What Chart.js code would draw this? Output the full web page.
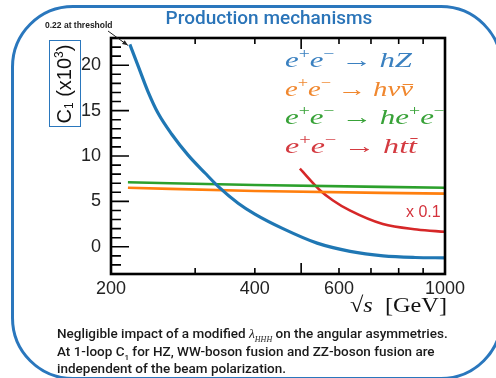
<!DOCTYPE html>
<html>
<head>
<meta charset="utf-8">
<script src="https://cdn.jsdelivr.net/npm/chart.js@4.4.0/dist/chart.umd.min.js"></script>
<style>
  body { margin: 0; background: #fff; }
  #wrap { position: relative; width: 496px; height: 378px; overflow: hidden; font-family: 'Liberation Sans', Arial, sans-serif; }
  #frame { position: absolute; left: 11px; top: 5px; width: 486px; height: 369px; border: 3px solid #2a77bd; border-radius: 62px; }
  canvas { position: absolute; left: 0; top: 0; }
  .ov { position: absolute; white-space: nowrap; }
  #title { left: 0; width: 538px; top: 6px; text-align: center; font-family: Roboto, sans-serif; font-weight: 500; font-size: 19px; color: #2a74b8; }
  #thr { left: 45px; top: 20px; font-size: 8.5px; font-weight: 700; color: #222; }
  #ybox { left: 49px; top: 40px; width: 30px; height: 85px; border: 1.5px solid #2a77bd; }
  #ytitle { left: 64px; top: 84px; transform: translate(-50%, -50%) rotate(-90deg); font-size: 20px; color: #111; }
  #ytitle sub { font-size: 12px; vertical-align: -2px; }
  #ytitle sup { font-size: 12px; vertical-align: 8px; }
  .lg { left: 285px; font-family: 'Liberation Serif', serif; font-size: 22px; line-height: 24px; transform-origin: left top; }
  .lg sup { font-size: 14px; vertical-align: 9px; line-height: 0; }
  .lg .ar { font-style: normal; margin: 0 5px; }
  .ob { display: inline-block; position: relative; }
  .ob::before { content: ''; position: absolute; left: 2px; right: 0; border-top: 1.2px solid currentColor; }
  .ob.nu::before { top: 7px; }
  .ob.t::before { top: 4px; }
  #scale { left: 406px; top: 203px; font-size: 16px; color: #d3323c; }
  #xtitle { left: 350px; top: 293px; font-family: 'Liberation Serif', serif; font-size: 22px; line-height: 24px; color: #111; transform-origin: left top; }
  .cap { left: 57px; font-family: Roboto, sans-serif; font-weight: 500; font-size: 13.5px; line-height: 16px; color: #1a1a1a; }
  .cap i { font-family: 'Liberation Serif', serif; }
  .cap sub { font-size: 8px; line-height: 0; }
</style>
</head>
<body>
<div id="wrap">
  <div id="frame"></div>
  <canvas id="chart" width="496" height="378"></canvas>
  <div class="ov" id="title">Production mechanisms</div>
  <div class="ov" id="thr">0.22 at threshold</div>
  <div class="ov" id="ybox"></div>
  <div class="ov" id="ytitle">C<sub>1</sub> (x10<sup>3</sup>)</div>
  <div class="ov lg" data-w="127" style="top:48px;color:#3a80c0"><i>e</i><sup>+</sup><i>e</i><sup>−</sup><span class="ar">→</span><i>hZ</i></div>
  <div class="ov lg" data-w="128" style="top:77px;color:#f0872e"><i>e</i><sup>+</sup><i>e</i><sup>−</sup><span class="ar">→</span><i>hν<span class="ob nu">ν</span></i></div>
  <div class="ov lg" data-w="160" style="top:105px;color:#38a238"><i>e</i><sup>+</sup><i>e</i><sup>−</sup><span class="ar">→</span><i>he</i><sup>+</sup><i>e</i><sup>−</sup></div>
  <div class="ov lg" data-w="132" style="top:134px;color:#d43a40"><i>e</i><sup>+</sup><i>e</i><sup>−</sup><span class="ar">→</span><i>ht<span class="ob t">t</span></i></div>
  <div class="ov" id="scale">x 0.1</div>
  <div class="ov" id="xtitle" data-w="97">√<i>s</i>&nbsp; [GeV]</div>
  <div class="ov cap" style="top:325px">Negligible impact of a modified <i>λ<sub>HHH</sub></i> on the angular asymmetries.</div>
  <div class="ov cap" style="top:343px">At 1-loop C<sub>1</sub> for HZ, WW-boson fusion and ZZ-boson fusion are</div>
  <div class="ov cap" style="top:360px">independent of the beam polarization.</div>
</div>
<script>
// sqrt(s) in GeV, C1 in units of 1e-3 (ttH curve already scaled by 0.1)
const hzSqrtS = [219, 228, 239, 251, 268, 290, 315, 336, 369, 400, 458, 540, 633, 742, 866, 1000];
const hzC1 = [22.3, 19.9, 17.1, 14.7, 12.4, 10.1, 8.1, 6.6, 4.8, 3.6, 2.0, 0.4, -0.5, -1.0, -1.18, -1.22];

const nunuSqrtS = [217, 400, 1000];
const nunuC1 = [6.5, 6.15, 5.85];

const eeSqrtS = [217, 400, 1000];
const eeC1 = [7.1, 6.8, 6.5];

const ttSqrtS = [497, 548, 583, 632, 741, 874, 1000];
const ttC1 = [8.6, 6.2, 5.1, 4.0, 2.5, 1.9, 1.65];

const xTickValues = [200, 300, 400, 500, 600, 700, 800, 900, 1000];
const xTickLabels = ['200', '', '400', '', '600', '', '', '', '1000'];
const yTickValues = [0, 5, 10, 15, 20];

const toPoints = (xs, ys) => xs.map((x, i) => ({ x: x, y: ys[i] }));

// stretch the math-style labels to the width they have in the original
document.querySelectorAll('[data-w]').forEach(el => {
  const w = el.getBoundingClientRect().width;
  el.style.transform = 'scaleX(' + (Number(el.dataset.w) / w) + ')';
});

// matplotlib-like frame with inward ticks
const framePlugin = {
  id: 'frame',
  afterDatasetsDraw(chart) {
    const { ctx, chartArea: a, scales } = chart;
    const x = scales.x, y = scales.y;
    ctx.save();
    ctx.strokeStyle = '#000';
    ctx.lineWidth = 1.6;
    ctx.beginPath();
    xTickValues.forEach(v => {
      const px = x.getPixelForValue(v);
      const len = v === 500 ? 11 : 6;
      ctx.moveTo(px, a.bottom); ctx.lineTo(px, a.bottom - len);
      ctx.moveTo(px, a.top); ctx.lineTo(px, a.top + len);
    });
    for (let v = Math.ceil(y.min); v <= y.max; v++) {
      const py = y.getPixelForValue(v);
      const len = v % 5 === 0 ? 18 : 10;
      ctx.moveTo(a.left, py); ctx.lineTo(a.left + len, py);
    }
    ctx.stroke();
    ctx.lineWidth = 2.6;
    ctx.strokeRect(a.left, a.top, a.right - a.left, a.bottom - a.top);

    // arrow to the threshold point
    const tx = x.getPixelForValue(hzSqrtS[0]) - 2;
    const ty = y.getPixelForValue(hzC1[0]) + 1;
    const sx = 108, sy = 31;
    ctx.lineWidth = 1;
    ctx.strokeStyle = '#222';
    ctx.beginPath();
    ctx.moveTo(sx, sy); ctx.lineTo(tx, ty);
    ctx.stroke();
    const ang = Math.atan2(ty - sy, tx - sx);
    ctx.fillStyle = '#222';
    ctx.beginPath();
    ctx.moveTo(tx, ty);
    ctx.lineTo(tx - 6 * Math.cos(ang - 0.4), ty - 6 * Math.sin(ang - 0.4));
    ctx.lineTo(tx - 6 * Math.cos(ang + 0.4), ty - 6 * Math.sin(ang + 0.4));
    ctx.closePath();
    ctx.fill();
    ctx.restore();
  }
};

new Chart(document.getElementById('chart'), {
  type: 'line',
  data: {
    datasets: [
      { label: 'hZ', data: toPoints(hzSqrtS, hzC1), borderColor: '#1f77b4', borderWidth: 3.2 },
      { label: 'hnunu', data: toPoints(nunuSqrtS, nunuC1), borderColor: '#ff7f0e', borderWidth: 2.6 },
      { label: 'hee', data: toPoints(eeSqrtS, eeC1), borderColor: '#2ca02c', borderWidth: 2.6 },
      { label: 'htt', data: toPoints(ttSqrtS, ttC1), borderColor: '#d62728', borderWidth: 2.6 }
    ]
  },
  options: {
    responsive: false,
    animation: false,
    devicePixelRatio: 1,
    layout: { padding: { left: 0, top: 38, right: 51, bottom: 0 } },
    elements: {
      point: { radius: 0 },
      line: { cubicInterpolationMode: 'monotone', fill: false }
    },
    plugins: { legend: { display: false }, tooltip: { enabled: false } },
    scales: {
      x: {
        type: 'logarithmic',
        min: 200,
        max: 1000,
        grid: { display: false, drawTicks: false },
        border: { display: false },
        afterBuildTicks: s => { s.ticks = xTickValues.map(v => ({ value: v })); },
        afterFit: s => { s.height = 104; },
        ticks: {
          autoSkip: false,
          maxRotation: 0,
          padding: 4,
          color: '#222',
          font: { family: 'Liberation Sans', size: 18 },
          callback: (v, i) => xTickLabels[i]
        }
      },
      y: {
        type: 'linear',
        min: -3,
        max: 23,
        grid: { display: false, drawTicks: false },
        border: { display: false },
        afterBuildTicks: s => { s.ticks = yTickValues.map(v => ({ value: v })); },
        afterFit: s => { s.width = 111; },
        ticks: {
          padding: 10,
          color: '#222',
          font: { family: 'Liberation Sans', size: 18 }
        }
      }
    }
  },
  plugins: [framePlugin]
});
</script>
</body>
</html>
